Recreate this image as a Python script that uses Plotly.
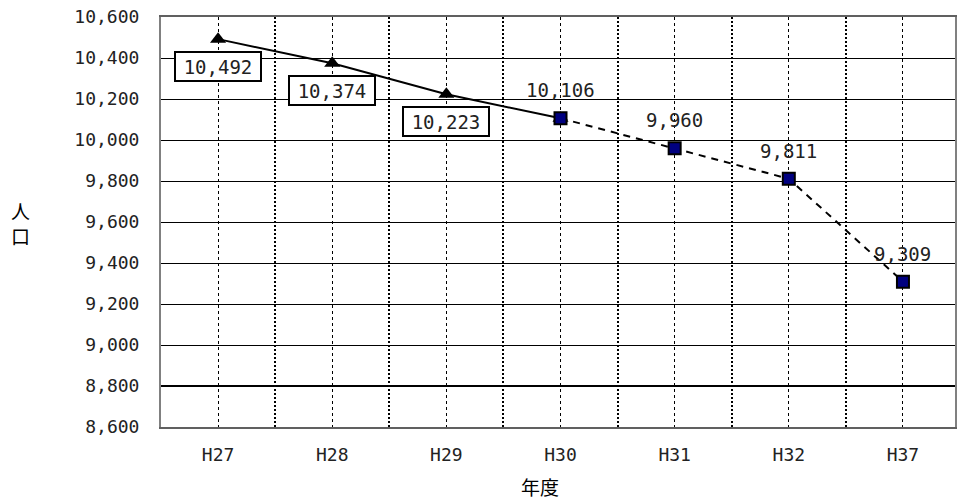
import plotly.graph_objects as go

years = ["H27", "H28", "H29", "H30", "H31", "H32", "H37"]
actual_idx = [0, 1, 2, 3]
actual_vals = [10492, 10374, 10223, 10106]
proj_idx = [3, 4, 5, 6]
proj_vals = [10106, 9960, 9811, 9309]
y_ticks = list(range(8600, 10601, 200))

FONT = "DejaVu Sans Mono, Noto Sans CJK JP"

fig = go.Figure()
fig.add_trace(go.Scatter(
    x=actual_idx, y=actual_vals, mode="lines+markers",
    line=dict(color="black", width=2),
    marker=dict(symbol="triangle-up", size=14, color="black"),
    showlegend=False, cliponaxis=False))
fig.add_trace(go.Scatter(
    x=proj_idx, y=proj_vals, mode="lines+markers",
    line=dict(color="black", width=2, dash="7px,6px"),
    marker=dict(symbol="square", size=12, color="#000080", line=dict(color="black", width=2)),
    showlegend=False, cliponaxis=False))

annotations = []
for i, v in zip(actual_idx[:3], actual_vals[:3]):
    annotations.append(dict(x=i, y=v, xref="x", yref="y", text=f"{v:,}", showarrow=False,
                            yshift=-27, bordercolor="black", borderwidth=2, bgcolor="white",
                            width=84, height=27, borderpad=0,
                            font=dict(family=FONT, size=19, color="#222222")))
for i, v in zip(proj_idx, proj_vals):
    annotations.append(dict(x=i, y=v, xref="x", yref="y", text=f"{v:,}", showarrow=False,
                            yshift=28, font=dict(family=FONT, size=19, color="#222222")))
annotations.append(dict(x=-0.177, y=0.4976, xref="paper", yref="paper", text="人<br>口",
                        showarrow=False, xanchor="center", yanchor="middle",
                        font=dict(family="Noto Sans CJK JP", size=19, color="black")))
annotations.append(dict(x=0.477, y=-0.146, xref="paper", yref="paper", text="年度",
                        showarrow=False, xanchor="center", yanchor="middle",
                        font=dict(family="Noto Sans CJK JP", size=19, color="black")))

fig.add_shape(type="line", xref="paper", yref="y", x0=0, x1=1, y0=8800, y1=8800,
              line=dict(color="black", width=2), layer="above")

fig.update_layout(
    width=957, height=500,
    margin=dict(l=161, r=0, t=17, b=73),
    plot_bgcolor="white", paper_bgcolor="white",
    annotations=annotations,
    xaxis=dict(
        range=[-0.5, 6.456], tickmode="array", tickvals=list(range(len(years))), ticktext=years,
        showgrid=True, gridcolor="black", gridwidth=1, griddash="3px,3px",
        minor=dict(tickmode="array", tickvals=[k + 0.5 for k in range(len(years))],
                   showgrid=True, gridcolor="black", gridwidth=1.5, griddash="2px,2px"),
        showline=True, linecolor="#606060", linewidth=2, mirror=True,
        ticks="", ticklabelstandoff=10, zeroline=False,
        tickfont=dict(family=FONT, size=18, color="#222222")),
    yaxis=dict(
        range=[8600, 10600], tickmode="array", tickvals=y_ticks,
        ticktext=[f"{t:,}" for t in y_ticks],
        showgrid=True, gridcolor="black", gridwidth=1,
        showline=True, linecolor="#808080", linewidth=2, mirror=True,
        ticks="", ticklabelstandoff=16, zeroline=False,
        tickfont=dict(family=FONT, size=18, color="#222222")),
)

fig.write_html("out.html")
